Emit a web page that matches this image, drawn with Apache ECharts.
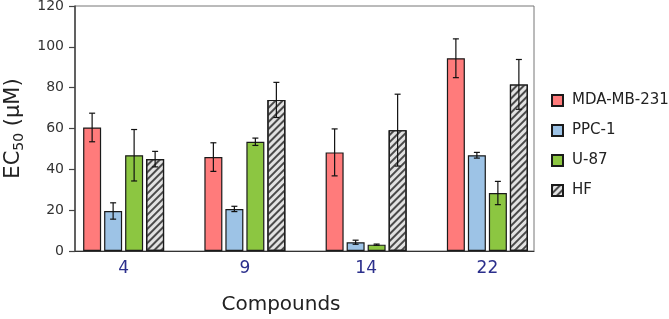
<!DOCTYPE html>
<html>
<head>
<meta charset="utf-8">
<script src="https://cdn.jsdelivr.net/npm/echarts@6/dist/echarts.min.js"></script>
<style>
  html, body { margin: 0; padding: 0; background: #fff; }
  #chart { width: 669px; height: 319px; }
</style>
</head>
<body>
<div id="chart"></div>
<script>
// data
const compounds = ['4', '9', '14', '22'];
const cellLines = ['MDA-MB-231', 'PPC-1', 'U-87', 'HF'];
const mdaValues = [60.5, 46, 48.3, 94.4];
const mdaErrors = [7, 7, 11.5, 9.5];
const ppcValues = [19.6, 20.6, 4.3, 46.9];
const ppcErrors = [4, 1.3, 1, 1.4];
const u87Values = [46.9, 53.5, 3.1, 28.4];
const u87Errors = [12.6, 1.8, 0.3, 5.7];
const hfValues = [45, 74, 59.2, 81.6];
const hfErrors = [3.8, 8.6, 17.6, 12.2];
const yTicks = [0, 20, 40, 60, 80, 100, 120];

const FONT = 'DejaVu Sans, Verdana, sans-serif';
const colors = ['#ff7b7b', '#9dc3e6', '#8cc641', '#e2e2e2'];
const values = [mdaValues, ppcValues, u87Values, hfValues];
const errors = [mdaErrors, ppcErrors, u87Errors, hfErrors];
const barWidth = 18;
const step = 21; // bar + gap
const offsets = [-1.5 * step, -0.5 * step, 0.5 * step, 1.5 * step];

const chart = echarts.init(document.getElementById('chart'), null, { renderer: 'canvas' });

const hatch = {
  symbol: 'rect',
  symbolSize: 1,
  dashArrayX: [1, 0],
  dashArrayY: [1.5, 2.5],
  rotation: -Math.PI / 4,
  color: '#4a4a4a'
};

const barSeries = cellLines.map((name, i) => {
  const itemStyle = {
    color: colors[i],
    borderColor: '#1a1a1a',
    borderWidth: 1.2
  };
  if (i === 3) itemStyle.decal = hatch;
  return {
    name,
    type: 'bar',
    xAxisIndex: 1,
    yAxisIndex: 1,
    barWidth,
    barGap: ((step - barWidth) / barWidth * 100) + '%',
    data: values[i],
    itemStyle,
    z: 2
  };
});

const errSeries = cellLines.map((name, i) => ({
  name: 'err-' + name,
  type: 'custom',
  xAxisIndex: 1,
  yAxisIndex: 1,
  z: 5,
  silent: true,
  data: values[i].map((v, k) => [k, v, errors[i][k]]),
  encode: { x: 0, y: 1 },
  renderItem: (params, api) => {
    const k = api.value(0);
    const v = api.value(1);
    const e = api.value(2);
    const top = api.coord([k, v + e]);
    const bot = api.coord([k, v - e]);
    const x = top[0] + offsets[i];
    const cap = 3;
    const style = { stroke: '#111', lineWidth: 1.2 };
    return {
      type: 'group',
      children: [
        { type: 'line', shape: { x1: x, y1: top[1], x2: x, y2: bot[1] }, style },
        { type: 'line', shape: { x1: x - cap, y1: top[1], x2: x + cap, y2: top[1] }, style },
        { type: 'line', shape: { x1: x - cap, y1: bot[1], x2: x + cap, y2: bot[1] }, style }
      ]
    };
  }
}));

chart.setOption({
  animation: false,
  textStyle: { fontFamily: FONT },
  title: {
    text: 'Compounds',
    left: 276,
    top: 290,
    textAlign: 'center',
    textStyle: { fontFamily: FONT, fontSize: 20, fontWeight: 'normal', color: '#222' }
  },
  legend: {
    orient: 'vertical',
    left: 546,
    top: 88,
    icon: 'rect',
    itemWidth: 11,
    itemHeight: 11,
    itemGap: 15,
    data: cellLines,
    textStyle: { fontFamily: FONT, fontSize: 15, color: '#222', padding: [0, 0, 0, 4] }
  },
  grid: [
    { left: 75, right: 135, top: 6, bottom: 68, show: true, borderColor: '#777', borderWidth: 1, outerBoundsMode: 'none', containLabel: false },
    { left: 63, width: 485, top: 6, bottom: 68, outerBoundsMode: 'none', containLabel: false }
  ],
  xAxis: [
    {
      gridIndex: 0, type: 'value', min: 0, max: 1,
      axisLine: { show: true, onZero: false, lineStyle: { color: '#333', width: 1.2 } },
      axisTick: { show: false }, axisLabel: { show: false }, splitLine: { show: false }
    },
    {
      gridIndex: 1, type: 'category', data: compounds,
      axisLine: { show: false }, axisTick: { show: false },
      axisLabel: { fontFamily: FONT, fontSize: 17, color: '#2b2f8c', margin: 9 }
    }
  ],
  yAxis: [
    {
      gridIndex: 0, type: 'value', min: yTicks[0], max: yTicks[yTicks.length - 1], interval: 20,
      name: '{a|EC}{s|50}{a| (μM)}',
      nameLocation: 'middle',
      nameGap: 48,
      nameRotate: 90,
      nameTextStyle: {
        rich: {
          a: { fontFamily: FONT, fontSize: 21, color: '#222', lineHeight: 26 },
          s: { fontFamily: FONT, fontSize: 14, color: '#222', lineHeight: 26, padding: [10, 0, 0, 0] }
        }
      },
      axisLine: { show: true, lineStyle: { color: '#444', width: 1.5 } },
      axisTick: { show: true, length: 6, lineStyle: { color: '#444', width: 1.2 } },
      axisLabel: { fontFamily: FONT, fontSize: 14, color: '#333', margin: 11 },
      splitLine: { show: false }
    },
    {
      gridIndex: 1, type: 'value', min: 0, max: 120, interval: 20, show: false
    }
  ],
  series: [...barSeries, ...errSeries]
});
</script>
</body>
</html>
